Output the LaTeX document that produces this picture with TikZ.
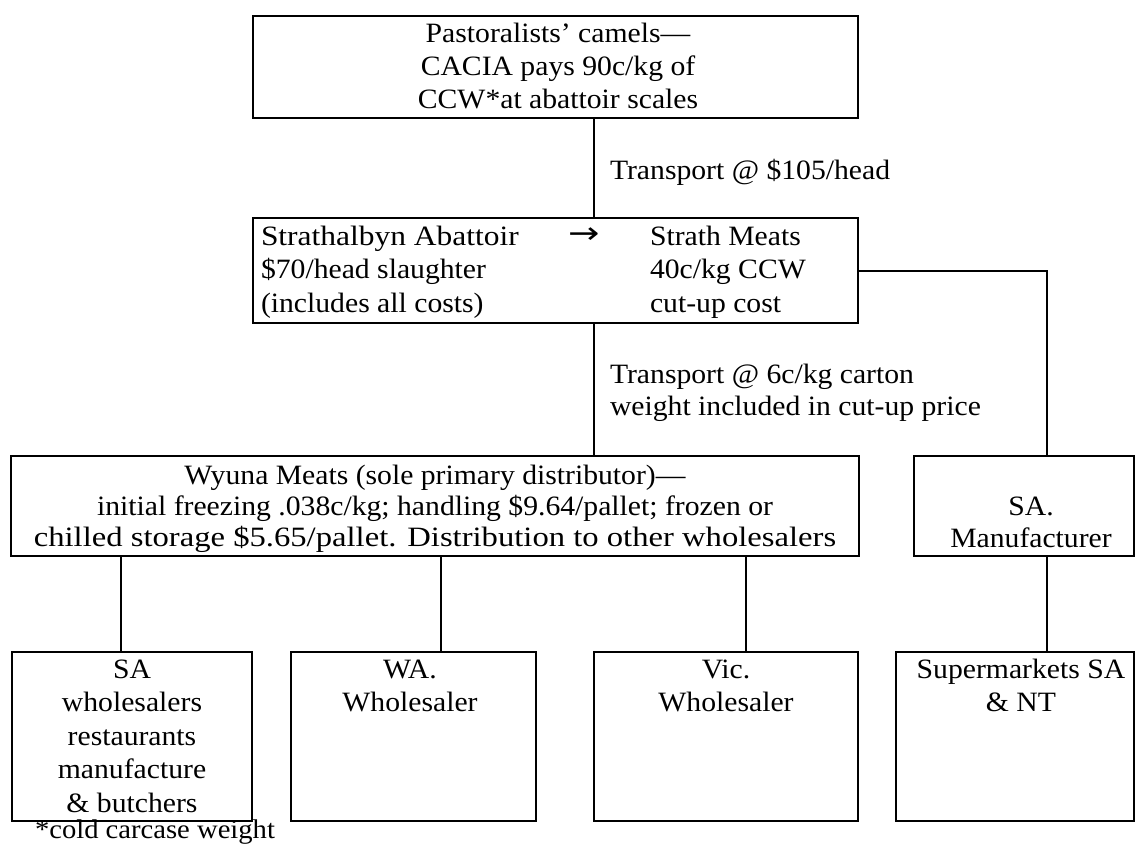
\documentclass[tikz,border=0pt]{standalone}
\usepackage{graphicx}
\usepackage{fontspec}
\setmainfont[FakeStretch=1.06]{Liberation Serif}
\newfontfamily\arrowfont{DejaVu Sans}
\newcommand{\fsz}[1]{\fontsize{28}{#1}\selectfont}
\newcommand{\wider}[2]{\scalebox{#1}[1]{#2}}
\tikzset{
  box/.style={draw, line width=2.2pt, rectangle, inner sep=0pt, outer sep=0pt},
  conn/.style={line width=2pt},
  txt/.style={inner sep=0pt, outer sep=0pt, anchor=north},
}
\begin{document}
\begin{tikzpicture}[x=1pt,y=-1pt]
\useasboundingbox (0,0) rectangle (1135,845);
% boxes
\node[box, minimum width=605pt, minimum height=102pt] (top) at (555.5,67) {};
\node[box, minimum width=605pt, minimum height=105pt] (mid) at (555.5,270.5) {};
\node[box, minimum width=848pt, minimum height=100pt] (wy) at (435,506) {};
\node[box, minimum width=220pt, minimum height=100pt] (man) at (1024,506) {};
\node[box, minimum width=240pt, minimum height=169pt] (b1) at (132,736.5) {};
\node[box, minimum width=245pt, minimum height=169pt] (b2) at (413.5,736.5) {};
\node[box, minimum width=264pt, minimum height=169pt] (b3) at (726,736.5) {};
\node[box, minimum width=238pt, minimum height=169pt] (b4) at (1015,736.5) {};
% texts
\node[txt, align=center, font=\fsz{33}] (ttop) at (558,19.9)
  {\strut Pastoralists’ camels—\\CACIA pays 90c/kg of\\CCW*at abattoir scales};
\node[txt, anchor=north west, align=left, font=\fsz{33.5}] (tmidl) at (261,221.55)
  {\strut \wider{1.06}{Strathalbyn Abattoir}\\\$70/head slaughter\\(includes all costs)};
\node[txt, anchor=base, font=\arrowfont\fontsize{30}{34}\selectfont] (arr) at (584,243.5) {\wider{1.25}{→}};
\node[txt, anchor=north west, align=left, font=\fsz{33.5}] (tmidr) at (650,221.55)
  {\strut Strath Meats\\40c/kg CCW\\cut-up cost};
\node[txt, align=center, font=\fsz{31}] (twy) at (435,462.3)
  {\strut Wyuna Meats (sole primary distributor)—\\initial freezing .038c/kg; handling \$9.64/pallet; frozen or\\\wider{1.10}{chilled storage \$5.65/pallet. Distribution to other wholesalers}};
\node[txt, align=center, font=\fsz{32}] (tman) at (1031,492.6)
  {\strut SA.\\Manufacturer};
\node[txt, align=center, font=\fsz{33.5}] (tb1) at (132,654.55)
  {\strut SA\\wholesalers\\restaurants\\manufacture\\\& butchers};
\node[txt, align=center, font=\fsz{33.5}] (tb2) at (410,654.55)
  {\strut WA.\\Wholesaler};
\node[txt, align=center, font=\fsz{33.5}] (tb3) at (726,654.55)
  {\strut Vic.\\Wholesaler};
\node[txt, align=center, font=\fsz{33.5}] (tb4) at (1021,654.55)
  {\strut Supermarkets SA\\\& NT};
\node[txt, anchor=base west, font=\fontsize{27}{30}\selectfont] (foot) at (35,838.5) {*cold carcase weight};
% connector columns
\coordinate (xa) at (594,0);
\coordinate (xr) at (1047,0);
\coordinate (x1) at (121,0);
\coordinate (x2) at (441,0);
\coordinate (x3) at (746,0);
% connectors
\draw[conn] (top.south -| xa) -- (mid.north -| xa);
\draw[conn] (mid.south -| xa) -- (wy.north -| xa);
\draw[conn] (mid.east) -- (mid.east -| xr) -- (man.north -| xr);
\draw[conn] (wy.south -| x1) -- (b1.north -| x1);
\draw[conn] (wy.south -| x2) -- (b2.north -| x2);
\draw[conn] (wy.south -| x3) -- (b3.north -| x3);
\draw[conn] (man.south -| xr) -- (b4.north -| xr);
% connector labels
\node[txt, anchor=base west, font=\fsz{28}] (l1) at (610,180) {Transport @ \$105/head};
\node[txt, anchor=north west, align=left, font=\fsz{32}] (l2) at (610,360.6)
  {\strut Transport @ 6c/kg carton\\weight included in cut-up price};
\end{tikzpicture}
\end{document}
